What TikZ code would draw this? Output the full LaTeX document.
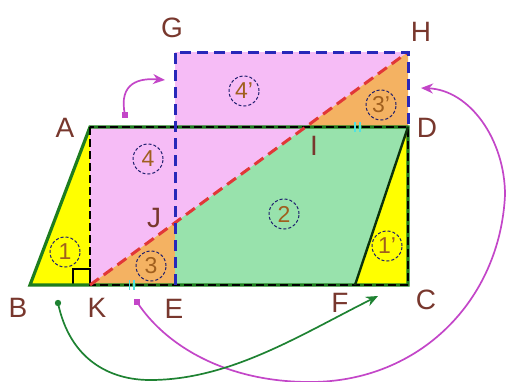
\documentclass[tikz,border=0pt]{standalone}
\usepackage{fontspec}
\setmainfont{Liberation Sans}
\usepackage{xcolor}
\usetikzlibrary{arrows.meta, calc}

\definecolor{ptbrown}{RGB}{120,55,45}
\definecolor{numbrown}{RGB}{160,95,30}
\definecolor{numblue}{RGB}{30,30,110}
\definecolor{pinkfill}{RGB}{246,188,246}
\definecolor{orangefill}{RGB}{244,178,98}
\definecolor{greenfill}{RGB}{152,226,172}
\definecolor{yellowfill}{RGB}{255,255,0}
\definecolor{edgegreen}{RGB}{30,125,30}
\definecolor{cutblue}{RGB}{40,40,185}
\definecolor{cutred}{RGB}{225,55,55}
\definecolor{movemag}{RGB}{195,70,200}
\definecolor{movegreen}{RGB}{30,130,50}
\definecolor{tickcyan}{RGB}{80,225,225}

\begin{document}
\begin{tikzpicture}[x=1pt, y=-1pt, >=Stealth]
    \tikzset{
        ptlabel/.style={text=ptbrown, font=\fontsize{28}{28}\selectfont, inner sep=0pt},
        piece/.style={circle, draw=numblue, densely dashed, line width=1pt, minimum size=30pt, inner sep=0pt, text=numbrown, font=\fontsize{23}{23}\selectfont},
        rimline/.style={draw=edgegreen, line width=3.2pt},
        rimdash/.style={draw=black, line width=2.6pt, dash pattern=on 8pt off 4pt},
        cutline/.style={line width=3pt, dash pattern=on 11pt off 6pt},
        tickmark/.style={draw=tickcyan, line width=1.8pt},
        moveline/.style={line width=1.7pt, -{Stealth[length=12pt, width=10pt]}}
    }
    \useasboundingbox (0,0) rectangle (510,381);

    % corner points
    \coordinate (A) at (90,127);
    \coordinate (B) at (30,285);
    \coordinate (K) at (90,285);
    \coordinate (E) at (175,285);
    \coordinate (F) at (355,285);
    \coordinate (C) at (408,285);
    \coordinate (D) at (408,127);
    \coordinate (G) at (175,52);
    \coordinate (H) at (408,52);
    \coordinate (I) at (305.6,127);
    \coordinate (J) at (175,222.7);
    \coordinate (M) at (175,127);

    % pieces
    \fill[yellowfill] (A) -- (B) -- (K) -- cycle;
    \fill[yellowfill] (D) -- (F) -- (C) -- cycle;
    \fill[pinkfill] (A) -- (I) -- (K) -- cycle;
    \fill[pinkfill] (G) -- (H) -- (I) -- (M) -- cycle;
    \fill[orangefill] (K) -- (J) -- (E) -- cycle;
    \fill[orangefill] (I) -- (H) -- (D) -- cycle;
    \fill[greenfill] (J) -- (I) -- (D) -- (F) -- (E) -- cycle;

    \draw[black, line width=1.8pt] ($(K)+(-17,-16)$) rectangle (K);
    \draw[rimline] (A) -- (B) -- (C) -- (D) -- cycle;
    \draw[rimdash] (A) -- (K) -- (C) -- (D) -- cycle;
    \draw[draw=black!60!edgegreen, line width=2.4pt] (D) -- (F);
    \draw[cutline, cutred] (K) -- (H);
    \draw[cutline, cutblue] (E) -- (G) -- (H) -- (D);

    % equal marks
    \coordinate (KEmid) at ($(K)!.5!(E)$);
    \coordinate (IDmid) at ($(I)!.5!(D)$);
    \draw[tickmark] ($(KEmid)+(-3,-5)$) -- ++(0,10) ($(KEmid)+(1.5,-5)$) -- ++(0,10);
    \draw[tickmark] ($(IDmid)+(-1.5,-5)$) -- ++(0,10) ($(IDmid)+(3,-5)$) -- ++(0,10);

    \node (p1) [piece] at (65,252) {1};
    \node (p2) [piece] at (284,214) {2};
    \node (p3) [piece] at (151,266) {3};
    \node (p4) [piece] at (148,159) {4};
    \node (p1b) [piece] at (387,246) {1'};
    \node (p3b) [piece] at (381,105) {3'};
    \node (p4b) [piece] at (244,91) {4'};

    \node (labG) [ptlabel] at (172,28) {G};
    \node (labH) [ptlabel] at (421,32) {H};
    \node (labA) [ptlabel] at (65,128) {A};
    \node (labD) [ptlabel] at (427,128) {D};
    \node (labI) [ptlabel] at (314,146) {I};
    \node (labJ) [ptlabel] at (154,218) {J};
    \node (labB) [ptlabel] at (18,308) {B};
    \node (labK) [ptlabel] at (97,308) {K};
    \node (labE) [ptlabel] at (174,309) {E};
    \node (labF) [ptlabel] at (340,303) {F};
    \node (labC) [ptlabel] at (426,300) {C};

    % moves
    \coordinate (m1s) at (125,115);
    \coordinate (m1e) at (165,80);
    \coordinate (m2s) at (137,302);
    \coordinate (m2e) at (421,88);
    \coordinate (g1s) at (58,303);
    \coordinate (g1e) at (378,296);
    \fill[movemag] ($(m1s)+(-3,-3)$) rectangle ++(6,6);
    \fill[movemag] ($(m2s)+(-3,-3)$) rectangle ++(6,6);
    \fill[movegreen] (g1s) circle (3.2);
    \draw[moveline, movemag] (m1s) .. controls (118,82) and (140,78) .. (m1e);
    \draw[moveline, movemag] (m2s) .. controls (165,345) and (225,382) .. (310,382) .. controls (420,382) and (500,300) .. (505,195) .. controls (505,140) and (470,90) .. (m2e);
    \draw[moveline, movegreen] (g1s) .. controls (70,360) and (110,380) .. (150,380) .. controls (230,380) and (300,335) .. (g1e);
\end{tikzpicture}
\end{document}
